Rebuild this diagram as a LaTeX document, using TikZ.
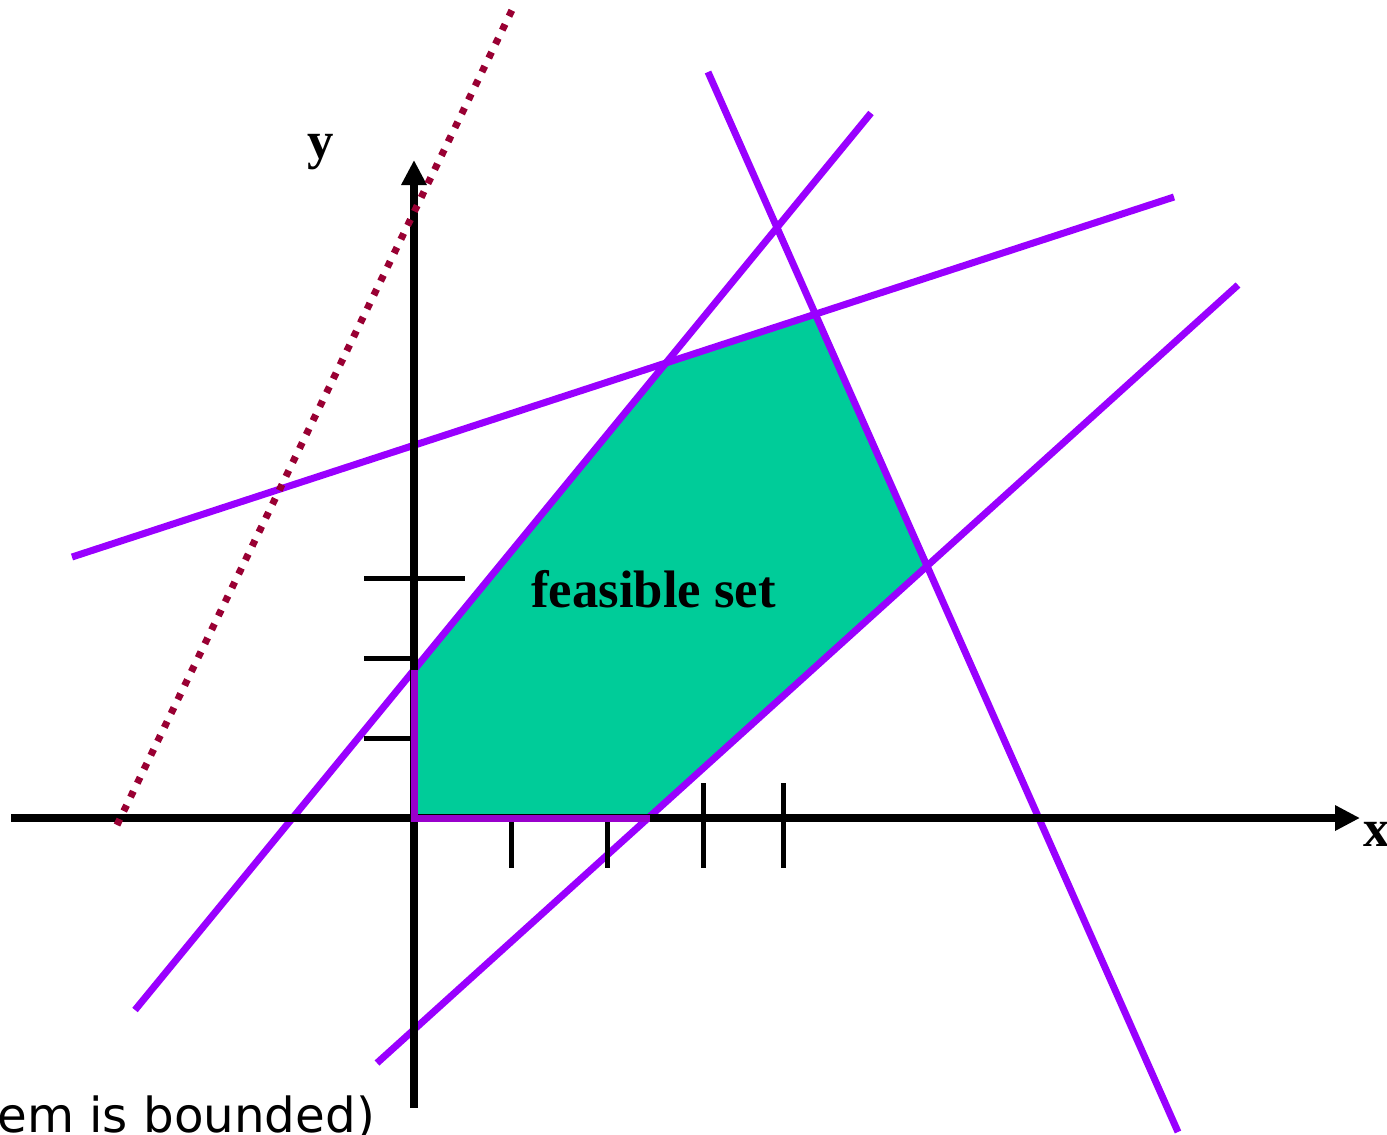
\documentclass[tikz,border=0pt]{standalone}
\usepackage{fontspec}
\setmainfont{Liberation Serif}
\newfontfamily\notefont{DejaVu Sans}
\usetikzlibrary{arrows.meta}
\definecolor{lineviolet}{HTML}{9900FF}
\definecolor{edgeviolet}{HTML}{9900CC}
\definecolor{feasgreen}{HTML}{00CC99}
\definecolor{objred}{HTML}{990033}

\begin{document}
\begin{tikzpicture}[
  x=0.02cm, y=-0.02cm,
  constraint/.style={draw=lineviolet, line width=0.14cm},
  axisline/.style={-{Triangle[length=0.5cm, width=0.48cm]}, line width=0.15cm},
  tickmark/.style={line width=0.1cm},
  axislabel/.style={font=\bfseries\fontsize{30}{30}\selectfont, inner sep=0pt, anchor=base west},
  objective/.style={draw=objred, line width=0.14cm, dash pattern=on 0.13cm off 0.18cm}
]
\useasboundingbox (0,0) rectangle (1387,1134);

\coordinate (O) at (414,818);
\coordinate (P1) at (414,670);
\coordinate (P2) at (666,363);
\coordinate (P3) at (815,314);
\coordinate (P4) at (927,566);
\coordinate (P5) at (650,818);

\fill[feasgreen] (O) -- (P1) -- (P2) -- (P3) -- (P4) -- (P5) -- cycle;

\coordinate (a1) at (135,1010); \coordinate (a2) at (871,113);
\coordinate (b1) at (72,557);   \coordinate (b2) at (1174,197);
\coordinate (c1) at (708,72);   \coordinate (c2) at (1178,1132);
\coordinate (d1) at (377,1063); \coordinate (d2) at (1238,285);

\draw[constraint] (a1) -- (a2);
\draw[constraint] (b1) -- (b2);
\draw[constraint] (c1) -- (c2);
\draw[constraint] (d1) -- (d2);

\coordinate (xstart) at (11,818);  \coordinate (xend) at (1360,818);
\coordinate (ystart) at (414,1108); \coordinate (yend) at (414,160);

\draw[axisline] (xstart) -- (xend);
\draw[axisline] (ystart) -- (yend);

\draw[tickmark] (364,578) -- (465,578);
\draw[tickmark] (364,658) -- (414,658);
\draw[tickmark] (364,738) -- (414,738);
\draw[tickmark] (511,818) -- (511,868);
\draw[tickmark] (607,818) -- (607,868);
\draw[tickmark] (703,783) -- (703,868);
\draw[tickmark] (783,783) -- (783,868);

\draw[edgeviolet, line width=0.14cm] (P1) -- (O) -- (P5);

\coordinate (o1) at (117,825); \coordinate (o2) at (512,10);
\draw[objective] (o1) -- (o2);

\node[axislabel] (xlab) at (1363,846) {x};
\node[axislabel] (ylab) at (307,158) {y};
\node[axislabel] (feas) at (531,607) {feasible set};
\node[font=\notefont\fontsize{27.5}{27.5}\selectfont, inner sep=0pt, anchor=base west] (note) at (-3,1132) {em is bounded)};

\end{tikzpicture}
\end{document}
